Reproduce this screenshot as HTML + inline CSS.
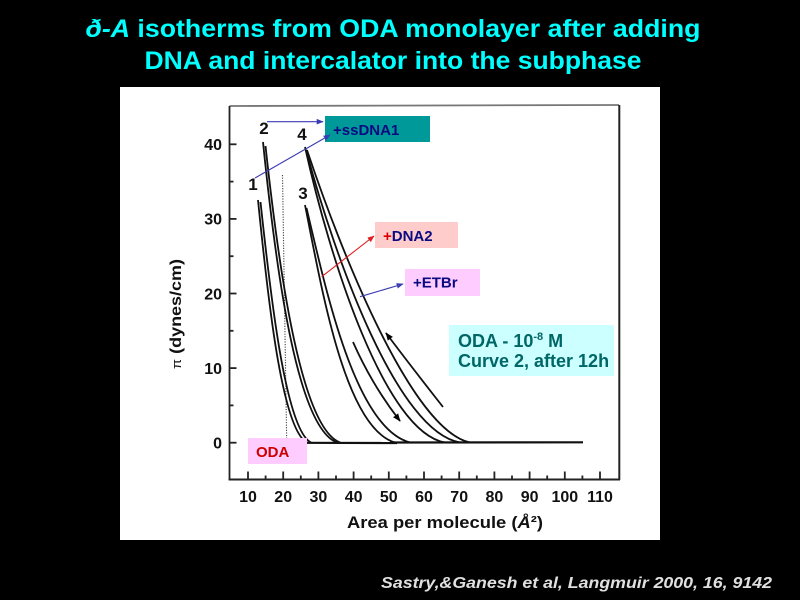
<!DOCTYPE html>
<html><head><meta charset="utf-8"><style>
html,body{margin:0;padding:0;background:#000;}
svg{display:block;}
text{font-family:"Liberation Sans",Arial,sans-serif;}
</style></head><body>
<svg width="800" height="600" viewBox="0 0 800 600" xmlns="http://www.w3.org/2000/svg">
<defs>
<marker id="ab" viewBox="0 0 10 10" refX="9" refY="5" markerWidth="7" markerHeight="7" orient="auto" markerUnits="userSpaceOnUse"><path d="M0,1 L10,5 L0,9 z" fill="#3c3cb4"/></marker>
<marker id="ar" viewBox="0 0 10 10" refX="9" refY="5" markerWidth="7" markerHeight="7" orient="auto" markerUnits="userSpaceOnUse"><path d="M0,1 L10,5 L0,9 z" fill="#e02020"/></marker>
<marker id="ak" viewBox="0 0 10 10" refX="9" refY="5" markerWidth="8" markerHeight="8" orient="auto" markerUnits="userSpaceOnUse"><path d="M0,1 L10,5 L0,9 z" fill="#000"/></marker>
</defs>
<rect x="0" y="0" width="800" height="600" fill="#000"/>
<!-- title -->
<text x="393" y="37" fill="#00ffff" font-size="25" font-weight="bold" text-anchor="middle" textLength="615" lengthAdjust="spacingAndGlyphs"><tspan font-style="italic">ð-A</tspan> isotherms from ODA monolayer after adding</text>
<text x="393" y="69" fill="#00ffff" font-size="25" font-weight="bold" text-anchor="middle" textLength="497" lengthAdjust="spacingAndGlyphs">DNA and intercalator into the subphase</text>
<!-- white panel -->
<rect x="120" y="87" width="540" height="453" fill="#fff"/>
<!-- axes box -->
<line x1="229.5" y1="106" x2="619" y2="105" stroke="#777" stroke-width="1.8"/>
<line x1="229.5" y1="106" x2="229.5" y2="480" stroke="#222" stroke-width="1.8"/>
<line x1="619.3" y1="105" x2="619.3" y2="480" stroke="#222" stroke-width="2"/>
<line x1="228.6" y1="479.5" x2="620" y2="479.5" stroke="#222" stroke-width="2"/>
<!-- bottom ticks -->
<g stroke="#222" stroke-width="1.8">
<line x1="248" y1="479.5" x2="248" y2="471.5"/><line x1="283.2" y1="479.5" x2="283.2" y2="471.5"/><line x1="318.4" y1="479.5" x2="318.4" y2="471.5"/><line x1="353.6" y1="479.5" x2="353.6" y2="471.5"/><line x1="388.8" y1="479.5" x2="388.8" y2="471.5"/><line x1="424" y1="479.5" x2="424" y2="471.5"/><line x1="459.2" y1="479.5" x2="459.2" y2="471.5"/><line x1="494.4" y1="479.5" x2="494.4" y2="471.5"/><line x1="529.6" y1="479.5" x2="529.6" y2="471.5"/><line x1="564.8" y1="479.5" x2="564.8" y2="471.5"/><line x1="600" y1="479.5" x2="600" y2="471.5"/>
<line x1="265.6" y1="479.5" x2="265.6" y2="475.5"/><line x1="300.8" y1="479.5" x2="300.8" y2="475.5"/><line x1="336" y1="479.5" x2="336" y2="475.5"/><line x1="371.2" y1="479.5" x2="371.2" y2="475.5"/><line x1="406.4" y1="479.5" x2="406.4" y2="475.5"/><line x1="441.6" y1="479.5" x2="441.6" y2="475.5"/><line x1="476.8" y1="479.5" x2="476.8" y2="475.5"/><line x1="512" y1="479.5" x2="512" y2="475.5"/><line x1="547.2" y1="479.5" x2="547.2" y2="475.5"/><line x1="582.4" y1="479.5" x2="582.4" y2="475.5"/>
<!-- left ticks -->
<line x1="229.5" y1="442.7" x2="236.5" y2="442.7"/><line x1="229.5" y1="368.1" x2="236.5" y2="368.1"/><line x1="229.5" y1="293.5" x2="236.5" y2="293.5"/><line x1="229.5" y1="218.9" x2="236.5" y2="218.9"/><line x1="229.5" y1="144.3" x2="236.5" y2="144.3"/>
<line x1="229.5" y1="405.4" x2="233.5" y2="405.4"/><line x1="229.5" y1="330.8" x2="233.5" y2="330.8"/><line x1="229.5" y1="256.2" x2="233.5" y2="256.2"/><line x1="229.5" y1="181.6" x2="233.5" y2="181.6"/>
</g>
<!-- y tick labels -->
<g font-size="16" font-weight="bold" fill="#111" text-anchor="end">
<text x="222" y="448.5">0</text><text x="222" y="373.9">10</text><text x="222" y="299.3">20</text><text x="222" y="224.7">30</text><text x="222" y="150.1">40</text>
</g>
<!-- x tick labels -->
<g font-size="16" font-weight="bold" fill="#111" text-anchor="middle">
<text x="248" y="502">10</text><text x="283.2" y="502">20</text><text x="318.4" y="502">30</text><text x="353.6" y="502">40</text><text x="388.8" y="502">50</text><text x="424" y="502">60</text><text x="459.2" y="502">70</text><text x="494.4" y="502">80</text><text x="529.6" y="502">90</text><text x="564.8" y="502">100</text><text x="600" y="502">110</text>
</g>
<text x="445" y="528" font-size="16.5" font-weight="bold" fill="#111" text-anchor="middle" textLength="196" lengthAdjust="spacingAndGlyphs">Area per molecule (<tspan font-style="italic">Å</tspan>²)</text>
<text transform="translate(181,314) rotate(-90)" font-size="16" font-weight="bold" fill="#111" text-anchor="middle" textLength="110" lengthAdjust="spacingAndGlyphs"><tspan font-weight="normal" font-size="13">π</tspan> (dynes/cm)</text>
<!-- dotted line -->
<path d="M282.5,175 L286.7,442" stroke="#444" stroke-width="1.1" stroke-dasharray="1.2,1.4" fill="none"/>
<!-- curves -->
<g stroke="#111" stroke-width="1.8" fill="none">
<path d="M258,200 C268,300 282,430 307,442.5"/>
<path d="M260.5,202 C271,300 286,430 311,442.5"/>
<path d="M263,142 C277,280 298,428 337,442.5"/>
<path d="M265.5,146 C280,280 302,428 340,442.5"/>
<path d="M305,205 C322,290 345,428 395,442.5"/>
<path d="M306.5,208 C326,290 355,428 410,442.5"/>
<path d="M305,147 C330,260 385,432 445,442.5"/>
<path d="M306,150 C336,262 398,432 460,442.5"/>
<path d="M307,150 C342,255 412,430 470,442.5"/>
<path d="M299,442.8 L397,443" stroke-width="2.2"/>
<path d="M390,442.5 L583,442.3" stroke-width="2.2"/>
<path d="M353,342 Q372,385 400,421" marker-end="url(#ak)"/>
<path d="M443,407 Q410,365 386,333" marker-end="url(#ak)"/>
</g>
<!-- curve numbers -->
<g font-size="17" font-weight="bold" fill="#111" text-anchor="middle">
<text x="253" y="190">1</text><text x="264" y="134">2</text><text x="303" y="199">3</text><text x="302" y="140">4</text>
</g>
<!-- annotation boxes -->
<rect x="325" y="116" width="105" height="26" fill="#009999"/>
<text x="333" y="135" font-size="15" font-weight="bold" fill="#0a0a80">+ssDNA1</text>
<rect x="375" y="222" width="83" height="26" fill="#ffcccc"/>
<text x="383" y="241" font-size="15" font-weight="bold" fill="#0a0a80"><tspan fill="#dd0000">+</tspan>DNA2</text>
<rect x="405" y="269" width="75" height="27" fill="#ffccff"/>
<text x="413" y="287.5" font-size="15" font-weight="bold" fill="#0a0a80">+ETBr</text>
<rect x="248" y="438" width="59" height="26" fill="#ffccff"/>
<text x="256" y="457" font-size="15" font-weight="bold" fill="#cc0000">ODA</text>
<rect x="449" y="325" width="165" height="51" fill="#ccffff"/>
<text x="458" y="347" font-size="18" font-weight="bold" fill="#006666">ODA - 10<tspan font-size="11" dy="-7">-8</tspan><tspan dy="7"> M</tspan></text>
<text x="458" y="367" font-size="18" font-weight="bold" fill="#006666">Curve 2, after 12h</text>
<!-- arrows -->
<g fill="none" stroke-width="1.1">
<path d="M267,121.7 L323,121.7" stroke="#3c3cb4" marker-end="url(#ab)"/>
<path d="M255,178 L330,135" stroke="#3c3cb4" marker-end="url(#ab)"/>
<path d="M321.7,276.7 L374,236" stroke="#e02020" marker-end="url(#ar)"/>
<path d="M360,296.7 L403,284" stroke="#3c3cb4" marker-end="url(#ab)"/>
</g>
<!-- footer -->
<text x="381" y="588" font-size="16" font-weight="bold" font-style="italic" fill="#e0e0e0" textLength="391" lengthAdjust="spacingAndGlyphs">Sastry,&amp;Ganesh et al, Langmuir 2000, 16, 9142</text>
</svg>
</body></html>
